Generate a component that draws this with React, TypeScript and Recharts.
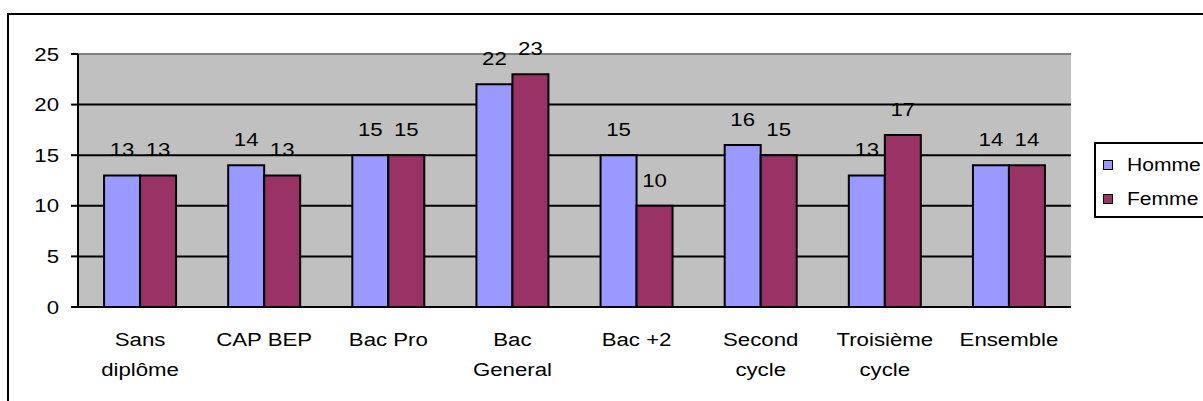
import {
	Bar,
	BarChart,
	CartesianGrid,
	LabelList,
	Legend,
	ReferenceLine,
	XAxis,
	YAxis,
} from "recharts";

// category labels, already split the way the reference wraps them
const categoryLines = [
	["Sans", "diplôme"],
	["CAP BEP"],
	["Bac Pro"],
	["Bac", "General"],
	["Bac +2"],
	["Second", "cycle"],
	["Troisième", "cycle"],
	["Ensemble"],
];
const categories = categoryLines.map((l) => l.join(" "));
const seriesNames = ["Homme", "Femme"];
const homme = [13, 14, 15, 22, 15, 16, 13, 14];
const femme = [13, 13, 15, 23, 10, 15, 17, 14];
const yTicks = [0, 5, 10, 15, 20, 25];
const edgeTicks = categories.map((_, i) => i).concat(categories.length);

const data = categories.map((name, i) => ({
	name,
	Homme: homme[i],
	Femme: femme[i],
}));

const FONT = "'Liberation Sans', Arial, sans-serif";
const FONT_SIZE = 19;
// the reference is stretched sideways a little
const STRETCH = 1.17;
const LEGEND_W = 112;

function CategoryTick(props: any) {
	const { x, y, payload } = props;
	const lines = categoryLines[categories.indexOf(payload.value)] ?? [payload.value];
	return (
		<g transform={`translate(${x},${y}) scale(${STRETCH},1)`}>
			<text textAnchor="middle" fontFamily={FONT} fontSize={FONT_SIZE} fill="#000">
				{lines.map((line, i) => (
					<tspan key={i} x={0} y={39 + i * 30}>
						{line}
					</tspan>
				))}
			</text>
		</g>
	);
}

function ValueTick(props: any) {
	const { x, y, payload } = props;
	return (
		<g transform={`translate(${x},${y}) scale(${STRETCH},1)`}>
			<text textAnchor="end" y={6.5} fontFamily={FONT} fontSize={FONT_SIZE} fill="#000">
				{payload.value}
			</text>
		</g>
	);
}

function BarValue(props: any) {
	const { x, y, width, value } = props;
	return (
		<g transform={`translate(${Number(x) + Number(width) / 2},${Number(y) - 19}) scale(${STRETCH},1)`}>
			<text textAnchor="middle" fontFamily={FONT} fontSize={FONT_SIZE} fill="#000">
				{value}
			</text>
		</g>
	);
}

function LegendBox(props: any) {
	const items = ((props.payload ?? []) as Array<{ value: string; color: string }>)
		.slice()
		.sort((a, b) => seriesNames.indexOf(a.value) - seriesNames.indexOf(b.value));
	return (
		<div
			style={{
				boxSizing: "border-box",
				width: LEGEND_W,
				height: 76,
				border: "2px solid #000",
				background: "#fff",
				paddingTop: 4,
			}}
		>
			{items.map((item) => (
				<div key={item.value} style={{ display: "flex", alignItems: "center", height: 34 }}>
					<span
						style={{
							boxSizing: "border-box",
							width: 10,
							height: 10,
							marginLeft: 7,
							background: item.color,
							border: "1.5px solid #000",
						}}
					/>
					<span
						style={{
							marginLeft: 14,
							fontFamily: FONT,
							fontSize: 18,
							color: "#000",
							transform: `scaleX(${STRETCH})`,
							transformOrigin: "left center",
							whiteSpace: "nowrap",
						}}
					>
						{item.value}
					</span>
				</div>
			))}
		</div>
	);
}

export default function App() {
	return (
		<div
			style={{
				position: "absolute",
				left: 0,
				top: 0,
				width: 1203,
				height: 401,
				overflow: "hidden",
				background: "#fff",
			}}
		>
			<div
				style={{
					position: "absolute",
					left: 7,
					top: 13,
					width: 1210,
					height: 410,
					border: "2px solid #000",
					boxSizing: "border-box",
				}}
			/>
			<div style={{ position: "absolute", left: 0, top: 0 }}>
				<BarChart
					width={1203}
					height={401}
					data={data}
					margin={{ top: 54, right: 132 - LEGEND_W, bottom: 0, left: 0 }}
					barCategoryGap="21%"
					barGap={0}
				>
					<CartesianGrid
						xAxisId="cat"
						vertical={false}
						fill="#C0C0C0"
						fillOpacity={1}
						stroke="#000"
						strokeWidth={2}
					/>
					<XAxis
						xAxisId="edge"
						type="number"
						domain={[0, categories.length]}
						ticks={edgeTicks}
						height={0}
						tickSize={6}
						tickFormatter={() => ""}
						axisLine={{ stroke: "#000", strokeWidth: 2 }}
						tickLine={{ stroke: "#000", strokeWidth: 2 }}
					/>
					<XAxis
						xAxisId="cat"
						dataKey="name"
						height={94}
						tickSize={0}
						tickMargin={0}
						axisLine={false}
						tickLine={false}
						interval={0}
						tick={<CategoryTick />}
					/>
					<YAxis
						width={78}
						domain={[0, 25]}
						ticks={yTicks}
						interval={0}
						tickSize={7}
						tickMargin={12}
						axisLine={{ stroke: "#000", strokeWidth: 2 }}
						tickLine={{ stroke: "#000", strokeWidth: 2 }}
						tick={<ValueTick />}
					/>
					<ReferenceLine xAxisId="cat" y={25} stroke="#808080" strokeWidth={2} />
					<ReferenceLine xAxisId="edge" x={categories.length} stroke="#808080" strokeWidth={2} />
					<Legend
						layout="vertical"
						verticalAlign="middle"
						align="right"
						wrapperStyle={{ left: 1094, top: 142, width: LEGEND_W, height: 76 }}
						content={<LegendBox />}
					/>
					<Bar
						xAxisId="cat"
						dataKey="Homme"
						fill="#9999FF"
						stroke="#000"
						strokeWidth={2}
						isAnimationActive={false}
					>
						<LabelList dataKey="Homme" content={<BarValue />} />
					</Bar>
					<Bar
						xAxisId="cat"
						dataKey="Femme"
						fill="#993366"
						stroke="#000"
						strokeWidth={2}
						isAnimationActive={false}
					>
						<LabelList dataKey="Femme" content={<BarValue />} />
					</Bar>
				</BarChart>
			</div>
		</div>
	);
}
